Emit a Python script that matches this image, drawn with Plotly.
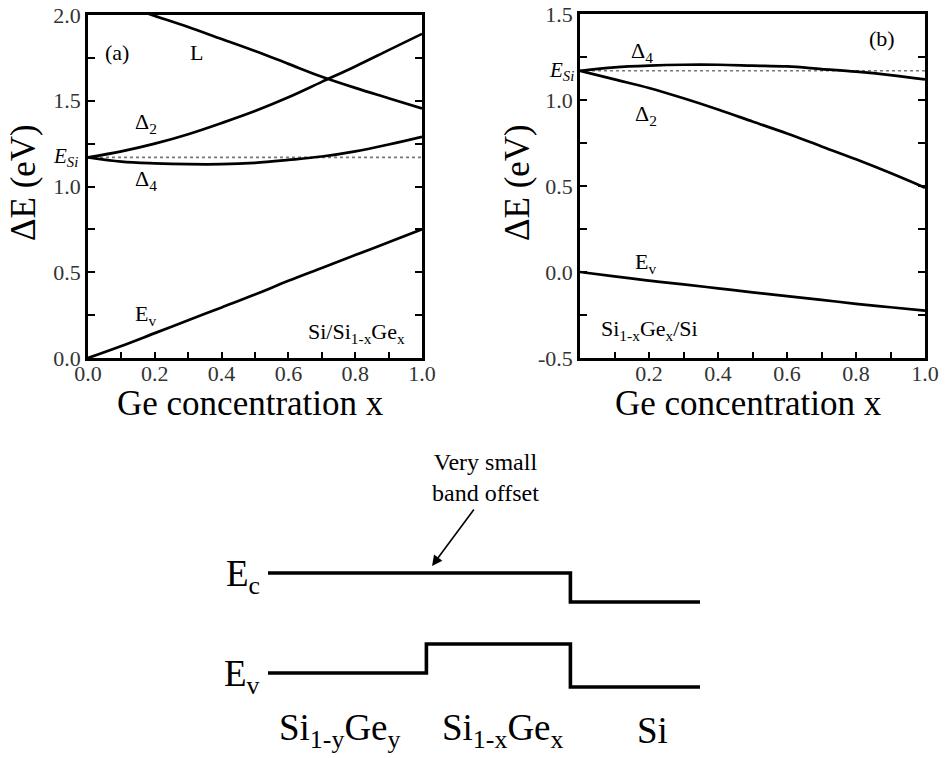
import plotly.graph_objects as go

# Ge concentration grid
x_conc = [0.0, 0.1, 0.2, 0.3, 0.4, 0.5, 0.6, 0.7, 0.8, 0.9, 1.0]

# (a) Si/Si1-xGex : band edges relative to Si valence band (eV)
L_a = [2.12, 2.06, 1.995, 1.93, 1.86, 1.79, 1.715, 1.64, 1.575, 1.515, 1.455]
D2_a = [1.17, 1.205, 1.25, 1.305, 1.37, 1.44, 1.52, 1.61, 1.70, 1.795, 1.89]
D4_a = [1.17, 1.145, 1.135, 1.13, 1.13, 1.138, 1.155, 1.175, 1.205, 1.245, 1.29]
Ev_a = [0.0, 0.07, 0.145, 0.22, 0.295, 0.37, 0.45, 0.525, 0.60, 0.675, 0.75]

# (b) Si1-xGex/Si
D4_b = [1.17, 1.19, 1.20, 1.205, 1.205, 1.20, 1.195, 1.18, 1.165, 1.145, 1.12]
D2_b = [1.17, 1.12, 1.07, 1.01, 0.945, 0.875, 0.805, 0.73, 0.655, 0.575, 0.49]
Ev_b = [0.0, -0.025, -0.05, -0.072, -0.095, -0.118, -0.14, -0.162, -0.185, -0.205, -0.225]

E_SI = 1.17

# tick values / labels
xa_ticks = [0.0, 0.1, 0.2, 0.3, 0.4, 0.5, 0.6, 0.7, 0.8, 0.9, 1.0]
xa_text = ["0.0", "", "0.2", "", "0.4", "", "0.6", "", "0.8", "", "1.0"]
xb_text = ["", "", "0.2", "", "0.4", "", "0.6", "", "0.8", "", "1.0"]
ya_ticks = [0.0, 0.25, 0.5, 0.75, 1.0, 1.25, 1.5, 1.75, 2.0]
ya_text = ["0.0", "", "0.5", "", "1.0", "", "1.5", "", "2.0"]
yb_ticks = [-0.5, -0.25, 0.0, 0.25, 0.5, 0.75, 1.0, 1.25, 1.5]
yb_text = ["-0.5", "", "0.0", "", "0.5", "", "1.0", "", "1.5"]

# band-alignment sketch: layer edges, band levels and layer names
layer_edges = [0.0, 1.1, 2.1, 3.0]
layer_names = ["Si<sub>1-y</sub>Ge<sub>y</sub>", "Si<sub>1-x</sub>Ge<sub>x</sub>", "Si"]
layer_label_x = [0.5, 1.63, 2.67]
Ec_levels = [1.0, 1.0, 0.71]
Ev_levels = [0.0, 0.29, -0.14]

FONT = "Liberation Serif"
LW = 2.7
W, H = 948, 758


def fx(p):
    """x pixel -> paper fraction"""
    return p / W


def fy(p):
    """y pixel (from top) -> paper fraction"""
    return 1 - p / H


def steps(edges, levels):
    xs, ys = [], []
    for i, lv in enumerate(levels):
        xs += [edges[i], edges[i + 1]]
        ys += [lv, lv]
    return xs, ys


fig = go.Figure()

def curve(y, xa, ya):
    fig.add_trace(go.Scatter(x=x_conc, y=y, mode="lines", xaxis=xa, yaxis=ya,
                             line=dict(color="black", width=LW, shape="spline"),
                             showlegend=False, hoverinfo="skip"))

def esi_line(xa, ya):
    fig.add_trace(go.Scatter(x=[0, 1], y=[E_SI, E_SI], mode="lines", xaxis=xa, yaxis=ya,
                             line=dict(color="#777", width=1.6, dash="dot"),
                             showlegend=False, hoverinfo="skip"))

esi_line("x", "y")
for s in (L_a, D2_a, D4_a, Ev_a):
    curve(s, "x", "y")
esi_line("x2", "y2")
for s in (D4_b, D2_b, Ev_b):
    curve(s, "x2", "y2")

for lv in (Ec_levels, Ev_levels):
    xs, ys = steps(layer_edges, lv)
    fig.add_trace(go.Scatter(x=xs, y=ys, mode="lines", xaxis="x3", yaxis="y3",
                             line=dict(color="black", width=3.6),
                             showlegend=False, hoverinfo="skip"))

tickfont = dict(family=FONT, size=22, color="#333")
common = dict(showline=True, linewidth=LW, linecolor="black",
              ticks="inside", tickwidth=2, tickcolor="black", tickfont=tickfont,
              showgrid=False, zeroline=False, automargin=False,
              ticklabeloverflow="allow")
common_x = dict(common, mirror=True, ticklen=6, range=[0, 1], tickvals=xa_ticks,
                ticklabelstandoff=-6)
common_y = dict(common, mirror="ticks", ticklen=7)

panel_y = [fy(358), fy(15)]

# sketch axes: 144 px per layer unit (x range [-0.5, 3]),
# 100 px per level unit (y range [-0.75, 2.2], Ec at y = 573 px)
fig.update_layout(
    width=W, height=H, margin=dict(l=0, r=0, t=0, b=0, autoexpand=False),
    template="none",
    paper_bgcolor="white", plot_bgcolor="white",
    font=dict(family=FONT, color="black"),
    xaxis=dict(domain=[fx(88), fx(422)], ticktext=xa_text, anchor="y", **common_x),
    yaxis=dict(domain=panel_y, range=[0, 2.0], tickvals=ya_ticks,
               ticktext=ya_text, anchor="x", **common_y),
    xaxis2=dict(domain=[fx(580), fx(925)], ticktext=xb_text, anchor="y2", **common_x),
    yaxis2=dict(domain=[fy(358), fy(14)], range=[-0.5, 1.5], tickvals=yb_ticks,
                ticktext=yb_text, anchor="x2", **common_y),
    xaxis3=dict(domain=[fx(196), fx(700)], range=[-0.5, 3.0],
                visible=False, anchor="y3", automargin=False),
    yaxis3=dict(domain=[fy(748), fy(453)], range=[-0.75, 2.2],
                visible=False, anchor="x3", automargin=False),
)

ann = []

def txt(text, x, y, xref, yref, size=22, xanchor="center", yanchor="middle", **kw):
    ann.append(dict(text=text, x=x, y=y, xref=xref, yref=yref, showarrow=False,
                    xanchor=xanchor, yanchor=yanchor,
                    font=dict(family=FONT, size=size, color="black"), **kw))

# axis titles
for xc in (23, 517):
    txt("\u0394E (eV)", fx(xc), fy(183), "paper", "paper", size=35, textangle=-90)
for xc in (250, 748):
    txt("Ge concentration x", fx(xc), fy(403), "paper", "paper", size=35)

# E_Si markers beside the y axes
txt("<i>E</i><sub><i>Si</i></sub>", fx(80), E_SI, "paper", "y", size=21, xanchor="right")
txt("<i>E</i><sub><i>Si</i></sub>", fx(576), E_SI, "paper", "y2", size=21, xanchor="right")

# panel (a) labels
txt("(a)", 0.087, 1.78, "x", "y")
txt("L", 0.326, 1.78, "x", "y")
txt("\u0394<sub>2</sub>", 0.174, 1.37, "x", "y")
txt("\u0394<sub>4</sub>", 0.174, 1.04, "x", "y")
txt("E<sub>v</sub>", 0.171, 0.25, "x", "y")
txt("Si/Si<sub>1-x</sub>Ge<sub>x</sub>", 0.805, 0.145, "x", "y")

# panel (b) labels
txt("(b)", 0.875, 1.36, "x2", "y2")
txt("\u0394<sub>4</sub>", 0.18, 1.28, "x2", "y2")
txt("\u0394<sub>2</sub>", 0.19, 0.91, "x2", "y2")
txt("E<sub>v</sub>", 0.19, 0.05, "x2", "y2")
txt("Si<sub>1-x</sub>Ge<sub>x</sub>/Si", 0.20, -0.34, "x2", "y2")

# band diagram labels
txt("E<sub>c</sub>", -0.04, Ec_levels[0] - 0.03, "x3", "y3", size=37, xanchor="right")
txt("E<sub>v</sub>", -0.04, Ev_levels[0] - 0.03, "x3", "y3", size=37, xanchor="right")
for name, lx in zip(layer_names, layer_label_x):
    txt(name, lx, -0.57, "x3", "y3", size=37)

txt("Very small<br>band offset", 1.507, 1.955, "x3", "y3", size=24)
ann.append(dict(text="", x=1.139, y=1.07, xref="x3", yref="y3",
                axref="pixel", ayref="pixel", ax=43, ay=-58,
                showarrow=True, arrowhead=2, arrowsize=1.3, arrowwidth=1.6,
                arrowcolor="black"))

fig.update_layout(annotations=ann)
fig.write_html("out.html")
